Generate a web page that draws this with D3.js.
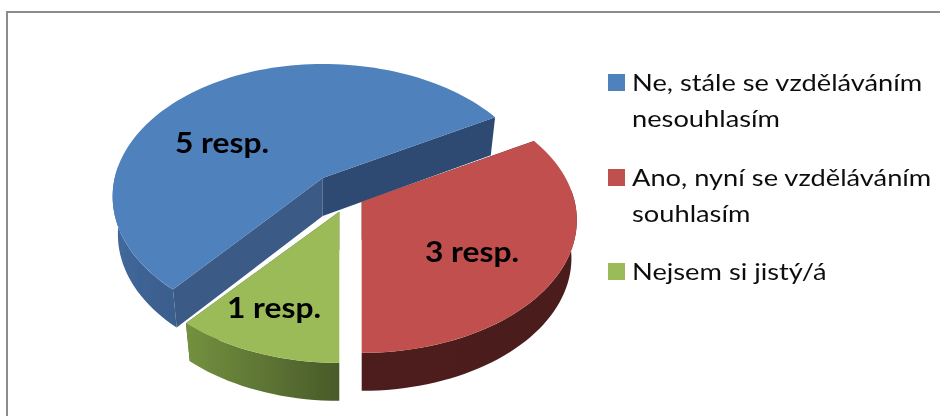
<!DOCTYPE html>
<html><head><meta charset="utf-8">
<script src="https://d3js.org/d3.v7.min.js"></script>
<style>html,body{margin:0;padding:0;background:#fff}svg{display:block}</style>
</head><body><svg id="c" width="940" height="416"></svg>
<script>
const categories = ["Ne, stále se vzděláváním nesouhlasím","Ano, nyní se vzděláváním souhlasím","Nejsem si jistý/á"];
const values = [5,3,1];
const dataLabels = ["5 resp.","3 resp.","1 resp."];
const legendLines = [["Ne, stále se vzděláváním","nesouhlasím"],["Ano, nyní se vzděláváním","souhlasím"],["Nejsem si jistý/á"]];
const topColors = ["#4f81bd","#c0504d","#9bbb59"];
const wallStops = [["#41699c","#3a5d8c"],["#4e1f1d","#4b1e1c"],["#74913f","#485a29"]];
const startWall = ["#3a5a85","#4b1e1c","#6f8a3c"];
const endWall = ["#2d4a72","#4b1e1c","#485a29"];

// layout
const apex = [[322.7,178],[361.7,201.7],[339.3,211.7]];
const labelPos = [[175,153],[425,262],[227,318]];
const AL=[208,208,213],AR=213,B=130,K=0.14,DEPTH=38,SHRINK=0.975;
const rad=d=>d*Math.PI/180;

const svg=d3.select("#c");
const defs=svg.append("defs");
const f=defs.append("filter").attr("id","soft").attr("x","-5%").attr("y","-5%").attr("width","110%").attr("height","110%");
f.append("feGaussianBlur").attr("stdDeviation",0.55);
const ft=defs.append("filter").attr("id","softText").attr("x","-5%").attr("y","-10%").attr("width","110%").attr("height","120%");
ft.append("feGaussianBlur").attr("stdDeviation",0.35);

svg.append("rect").attr("x",7).attr("y",12).attr("width",960).attr("height",440)
  .attr("fill","#fff").attr("stroke","#8c8c8c").attr("stroke-width",2);

const pie=d3.pie().sort(null).startAngle(rad(220)).endAngle(rad(580));
const arcs=pie(values).map(d=>{
  const off=d.startAngle>=2*Math.PI?2*Math.PI:0;
  return {start:d.startAngle-off,end:d.endAngle-off};
});
const project=(t,i,r=1,low=false)=>{
  const u=Math.sin(t)*r,v=-Math.cos(t)*r,w=1-K*v;
  let x=(u<0?AL[i]:AR)*u/w,y=B*v/w;
  if(low){x*=SHRINK;y+=DEPTH;}
  return [apex[i][0]+x,apex[i][1]+y];
};
const line=d3.line();
const sample=(a,b)=>{const n=Math.max(2,Math.ceil(Math.abs(b-a)/rad(2)));return d3.range(n+1).map(k=>a+(b-a)*k/n);};
const g=svg.append("g").attr("filter","url(#soft)");

arcs.forEach((d,i)=>{
  const grad=defs.append("linearGradient").attr("id","w"+i);
  grad.append("stop").attr("offset",0).attr("stop-color",wallStops[i][0]);
  grad.append("stop").attr("offset",1).attr("stop-color",wallStops[i][1]);
  // cut faces
  [[d.start,startWall[i]],[d.end,endWall[i]]].forEach(([t,c])=>{
    const poly=[project(t,i,0),project(t,i),project(t,i,1,true),project(t,i,0,true)];
    g.append("path").attr("d",line(poly)+"Z").attr("fill",c);
  });
  // outer wall : only the part turned to the viewer
  const a=Math.max(d.start,rad(85)),b=Math.min(d.end,rad(275));
  const ang=sample(a,b);
  const pts=ang.map(t=>project(t,i)).concat(ang.slice().reverse().map(t=>project(t,i,1,true)));
  g.append("path").attr("d",line(pts)+"Z").attr("fill",`url(#w${i})`);
  // top face
  const top=[project(0,i,0)].concat(sample(d.start,d.end).map(t=>project(t,i)));
  g.append("path").attr("d",line(top)+"Z").attr("fill",topColors[i]);
});

svg.append("g").attr("filter","url(#softText)").selectAll("text").data(dataLabels).join("text")
  .attr("transform",(d,i)=>`translate(${labelPos[i][0]},${labelPos[i][1]}) scale(1.134,1)`)
  .attr("font-family","Lato").attr("font-weight",700).attr("font-size",28).attr("fill","#000").text(d=>d);

const legendY=[[90.7,127],[185.7,221.7],[280]];
const swatchY=[74,169,263];
const lg=svg.append("g");
const lt=lg.append("g").attr("filter","url(#softText)");
legendLines.forEach((ls,i)=>{
  lg.append("rect").attr("x",608).attr("y",swatchY[i]).attr("width",17).attr("height",17).attr("fill",topColors[i]);
  ls.forEach((t,j)=>lt.append("text").attr("transform",`translate(632,${legendY[i][j]}) scale(1.16,1)`)
    .attr("font-family","Lato").attr("font-size",23.5).attr("fill","#111").text(t));
});
</script></body></html>
